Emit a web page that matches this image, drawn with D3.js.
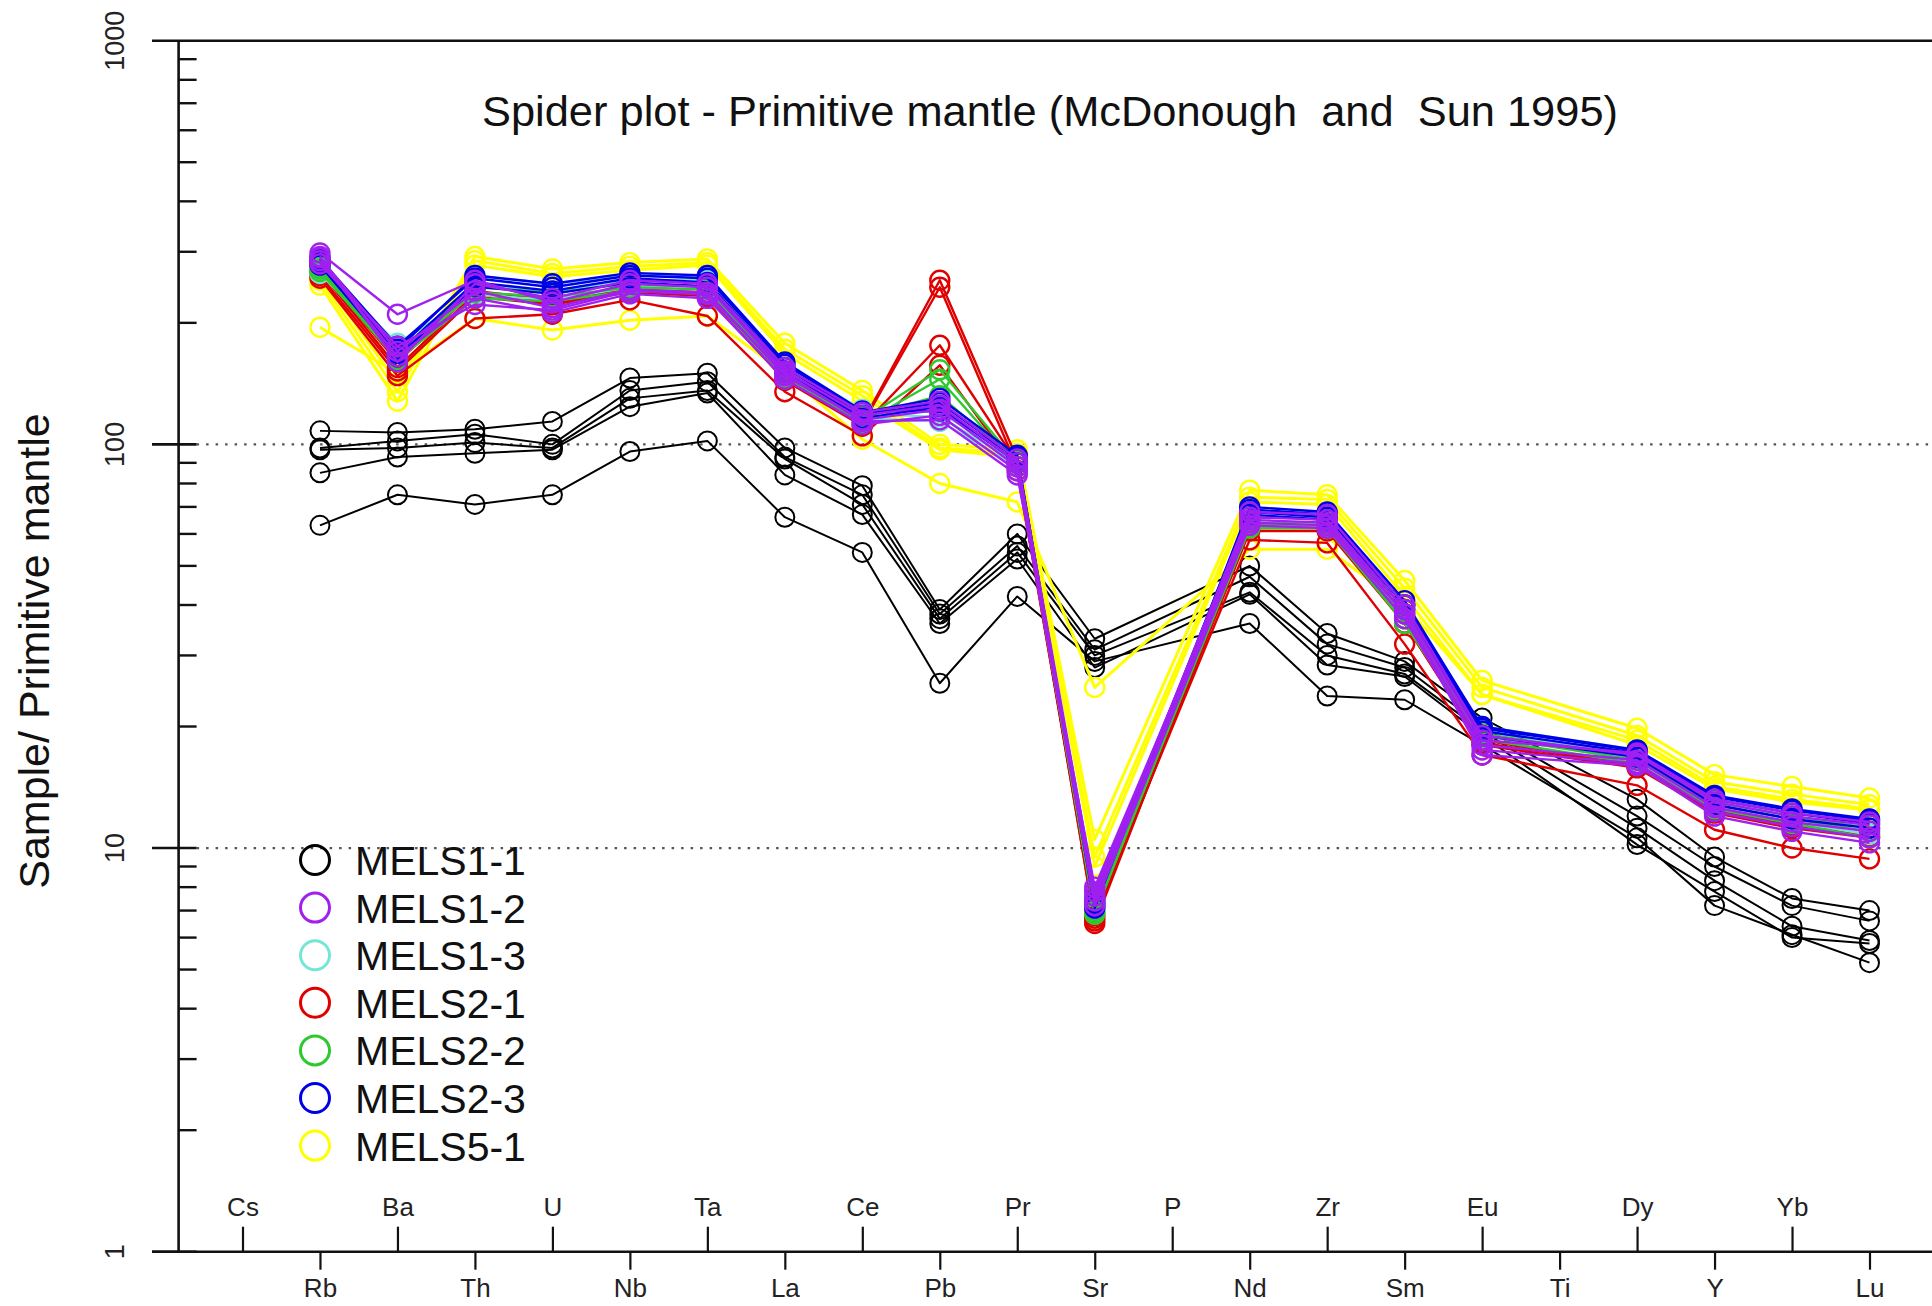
<!DOCTYPE html>
<html>
<head>
<meta charset="utf-8">
<script src="https://cdn.jsdelivr.net/npm/d3@7"></script>
<style>
  html, body { margin: 0; padding: 0; background: #fff; }
  svg { display: block; }
  text { font-family: "Liberation Sans", Arial, Helvetica, sans-serif; }
</style>
</head>
<body>
<svg id="chart" width="1932" height="1306"></svg>
<script>
// ---------------- DATA ----------------
const elements = ["Cs","Rb","Ba","Th","U","Nb","Ta","La","Ce","Pb","Pr","Sr","P","Nd","Zr","Sm","Eu","Ti","Dy","Y","Yb","Lu"];
const yTickValues = [1, 10, 100, 1000];
const yTickLabels = ["1", "10", "100", "1000"];
const refLines = [10, 100];
const title = "Spider plot - Primitive mantle (McDonough  and  Sun 1995)";
const yTitle = "Sample/ Primitive mantle";

const groupNames = ["MELS1-1", "MELS1-2", "MELS1-3", "MELS2-1", "MELS2-2", "MELS2-3", "MELS5-1"];
const groupColors = ["#000000", "#a020f0", "#74e6d6", "#e00000", "#2fc92f", "#0000e6", "#ffff00"];

//                 Cs    Rb   Ba   Th   U    Nb   Ta   La   Ce   Pb   Pr   Sr   P     Nd   Zr   Sm   Eu   Ti    Dy   Y    Yb   Lu
const MELS1_1 = [
  [null, 108, 107, 109, 114, 146, 150,  98,  79,  39,  60,  33, null, 50,  34,  29,  21, null, 13.2, 9.5, 7.5, 7.0],
  [null,  98, 102, 106, 100, 136, 143,  93,  75,  38,  56,  31, null, 47,  32,  28,  20, null, 12.0, 9.0, 7.2, 6.6],
  [null,  97,  98, 101,  98, 130, 136,  92,  71,  37,  54,  30, null, 43,  30,  27,  19.5, null, 11.2, 8.3, 6.4, 5.9],
  [null,  85,  93,  95,  97, 124, 134,  84,  67,  36,  52,  28, null, 42.5, 28.4, 26.6, 19, null, 10.2, 7.8, 6.0, 5.8],
  [null,  63,  75,  71,  75,  96, 102,  66,  54, 25.6, 42, 29, null, 36,  23.8, 23.3, 18, null, 10.6, 7.2, 6.1, 5.2]
];
const MELS1_2 = [
  [null, 298, 210, 255, 225, 250, 245, 152, 118, 125,  90, 7.6, null, 68, 67, 40, 19.0, null, 17.0, 13.0, 12.0, 11.4],
  [null, 290, 170, 240, 218, 242, 238, 148, 115, 122,  88, 7.4, null, 65, 64, 38, 18.0, null, 16.5, 12.6, 11.6, 11.0],
  [null, 285, 165, 230, 212, 236, 230, 145, 112, 118,  86, 7.2, null, 63, 62, 37, 17.5, null, 16.2, 12.3, 11.3, 10.6],
  [null, 292, 160, 250, 230, 255, 250, 155, 120, 128,  92, 7.8, null, 66, 65, 39, 18.5, null, 17.2, 13.2, 12.2, 11.6],
  [null, 280, 175, 222, 215, 240, 235, 150, 114, 115,  84, 8.0, null, 64, 63, 38, 17.0, null, 16.0, 12.0, 11.0, 10.3]
];
const MELS1_3 = [
  [null, 270, 172, 262, 250, 262, 262, 158, 122, 120,  92, 7.0, null, 68, 68, 40, 20.0, null, 17.5, 13.5, 12.4, 11.8],
  [null, 265, 168, 248, 240, 255, 255, 155, 119, 117,  90, 7.1, null, 66, 66, 39, 19.5, null, 17.0, 13.0, 12.0, 11.2],
  [null, 275, 178, 235, 228, 245, 248, 150, 116, 114,  88, 7.3, null, 64, 63, 37, 19.0, null, 16.6, 12.6, 11.6, 10.8]
];
const MELS2_1 = [
  [null, 270, 160, 240, 228, 242, 238, 147, 113, 255,  92, 6.5, null, 63, 63, 37, 18.5, null, 16.0, 12.4, 11.4, 10.8],
  [null, 268, 155, 236, 224, 240, 236, 145, 112, 245,  88, 6.6, null, 62, 62, 36, 18.0, null, 15.8, 12.2, 11.2, 10.6],
  [null, 262, 152, 232, 222, 238, 233, 144, 111, 176,  90, 6.7, null, 61, 61, 36, 18.2, null, 16.0, 12.3, 11.3, 10.7],
  [null, 258, 148, 205, 210, 228, 208, 135, 105, 157,  86, 6.8, null, 58, 57, 32, 17.0, null, 14.3, 11.1, 10.0, 9.4]
];
const MELS2_2 = [
  [null, 272, 165, 238, 232, 245, 242, 150, 115, 153,  90, 6.9, null, 63, 63, 37, 19.0, null, 16.5, 12.8, 11.8, 11.0],
  [null, 268, 162, 230, 226, 240, 236, 147, 113, 145,  88, 7.0, null, 62, 62, 36, 18.6, null, 16.2, 12.5, 11.5, 10.6],
  [null, 276, 170, 245, 238, 250, 246, 152, 117, 132,  91, 6.85, null, 64, 64, 38, 19.2, null, 16.8, 13.0, 12.0, 11.2]
];
const MELS2_3 = [
  [null, 288, 175, 258, 245, 262, 258, 158, 120, 130,  94, 7.1, null, 70, 68, 41, 20.0, null, 17.5, 13.5, 12.5, 11.8],
  [null, 283, 168, 252, 240, 258, 252, 155, 118, 127,  92, 7.2, null, 68, 66, 40, 19.5, null, 17.2, 13.2, 12.2, 11.5],
  [null, 278, 165, 246, 236, 252, 246, 152, 116, 124,  90, 7.3, null, 67, 65, 39, 19.0, null, 16.8, 12.8, 11.8, 11.2],
  [null, 285, 172, 262, 250, 266, 262, 160, 121, 121,  93, 7.4, null, 69, 67, 40, 19.8, null, 17.4, 13.4, 12.4, 11.7]
];
const MELS5_1 = [
  [null, 255, 135, 292, 272, 282, 288, 178, 136, 100,  97, 10.5, null, 77, 75, 46, 26, null, 19.8, 15.2, 14.2, 13.3],
  [null, 248, 128, 285, 265, 276, 282, 172, 132,  98,  95, 9.5, null, 74, 73, 44, 25, null, 19.0, 14.6, 13.6, 12.8],
  [null, 262, 142, 278, 260, 270, 278, 168, 128,  97,  93, 9.0, null, 72, 71, 42, 24, null, 18.5, 14.2, 13.2, 12.5],
  [null, 195, 150, 205, 192, 203, 208, 150, 103,  80,  72, 25, null, 55, 55, 40, 24, null, 18.0, 14.0, 13.0, 12.4]
];

const groupSamples = [MELS1_1, MELS1_2, MELS1_3, MELS2_1, MELS2_2, MELS2_3, MELS5_1];
// drawing order (index into groups)
const drawOrder = [0, 6, 3, 2, 4, 5, 1];

// ---------------- LAYOUT ----------------
const W = 1932, H = 1306;
const axisX = 178.6, axisY = 1251.7, topY = 40.7;
const lineStartX = 152;

const svg = d3.select("#chart");
svg.append("rect").attr("width", W).attr("height", H).attr("fill", "#fff");

const x = d3.scalePoint().domain(elements).range([242.5, 1869.5]);
const y = d3.scaleLog().domain([1, 1000]).range([axisY, topY]);

// reference dotted lines
svg.append("g").selectAll("line").data(refLines).join("line")
  .attr("x1", axisX + 18).attr("x2", W)
  .attr("y1", d => y(d)).attr("y2", d => y(d))
  .attr("stroke", "#555").attr("stroke-width", 2.2)
  .attr("stroke-dasharray", "2.5,7");

// frame: top line, y axis, x axis
svg.append("line").attr("x1", lineStartX).attr("x2", W).attr("y1", topY).attr("y2", topY)
  .attr("stroke", "#111").attr("stroke-width", 2.6);
svg.append("line").attr("x1", axisX).attr("x2", axisX).attr("y1", topY).attr("y2", axisY)
  .attr("stroke", "#111").attr("stroke-width", 2.6);
svg.append("line").attr("x1", lineStartX).attr("x2", W).attr("y1", axisY).attr("y2", axisY)
  .attr("stroke", "#111").attr("stroke-width", 2.6);

// y ticks: minor (inside) and major (crossing)
const minorVals = [];
[1, 10, 100].forEach(dec => { for (let k = 2; k <= 9; k++) minorVals.push(dec * k); });
svg.append("g").selectAll("line").data(minorVals).join("line")
  .attr("x1", axisX).attr("x2", axisX + 18)
  .attr("y1", d => y(d)).attr("y2", d => y(d))
  .attr("stroke", "#111").attr("stroke-width", 2.4);
svg.append("g").selectAll("line").data(yTickValues.filter(v => v < 1000)).join("line")
  .attr("x1", lineStartX).attr("x2", axisX + 18)
  .attr("y1", d => y(d)).attr("y2", d => y(d))
  .attr("stroke", "#111").attr("stroke-width", 2.6);

svg.append("g").selectAll("text").data(yTickValues).join("text")
  .attr("transform", (d) => `translate(124,${y(d)}) rotate(-90)`)
  .attr("text-anchor", "middle")
  .attr("font-size", 27)
  .attr("fill", "#222")
  .text((d, i) => yTickLabels[i]);

// x axes: alternating up / down
const upEls = elements.filter((e, i) => i % 2 === 0);
const downEls = elements.filter((e, i) => i % 2 === 1);

const axUp = d3.axisTop(x).tickValues(upEls).tickSize(25).tickPadding(11);
const axDown = d3.axisBottom(x).tickValues(downEls).tickSize(18).tickPadding(9);

const gUp = svg.append("g").attr("transform", `translate(0,${axisY})`).call(axUp);
const gDown = svg.append("g").attr("transform", `translate(0,${axisY})`).call(axDown);
[gUp, gDown].forEach(g => {
  g.select(".domain").remove();
  g.selectAll(".tick line").attr("stroke", "#111").attr("stroke-width", 2.2);
  g.selectAll(".tick text")
    .attr("font-family", "'Liberation Sans', Arial, sans-serif")
    .attr("font-size", 26).attr("fill", "#222");
});

// ---------------- SERIES ----------------
const line = d3.line().x(d => x(d.e)).y(d => y(d.v));
const plotG = svg.append("g");
drawOrder.forEach(gi => {
  const color = groupColors[gi];
  const sw = gi === 0 ? 2 : (gi === 6 ? 3 : 2.4);
  groupSamples[gi].forEach(sample => {
    const pts = sample.map((v, i) => ({ e: elements[i], v })).filter(d => d.v != null);
    const g = plotG.append("g");
    g.append("path").attr("d", line(pts)).attr("fill", "none")
      .attr("stroke", color).attr("stroke-width", sw).attr("stroke-linejoin", "round");
    g.selectAll("circle").data(pts).join("circle")
      .attr("cx", d => x(d.e)).attr("cy", d => y(d.v)).attr("r", 9.5)
      .attr("fill", "none").attr("stroke", color).attr("stroke-width", gi === 0 ? 2 : 2.4);
  });
});

// ---------------- TITLES ----------------
svg.append("text")
  .attr("x", 1050).attr("y", 126)
  .attr("text-anchor", "middle")
  .attr("font-size", 43.4)
  .attr("fill", "#111")
  .style("white-space", "pre")
  .text(title);

svg.append("text")
  .attr("transform", "translate(49,651) rotate(-90)")
  .attr("text-anchor", "middle")
  .attr("font-size", 43)
  .attr("fill", "#111")
  .text(yTitle);

// ---------------- LEGEND ----------------
const leg = svg.append("g");
const legItems = leg.selectAll("g").data(groupNames).join("g")
  .attr("transform", (d, i) => `translate(315,${860 + i * 47.6})`);
legItems.append("circle").attr("r", 14.5).attr("fill", "none")
  .attr("stroke", (d, i) => groupColors[i]).attr("stroke-width", 3);
legItems.append("text").attr("x", 40).attr("y", 15)
  .attr("font-size", 41).attr("fill", "#111")
  .text(d => d);
</script>
</body>
</html>
